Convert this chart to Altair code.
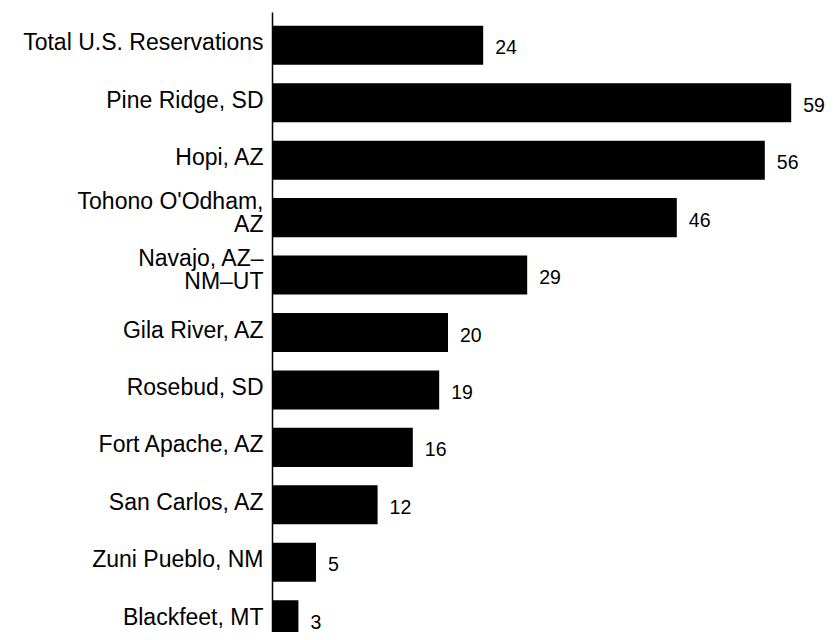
import altair as alt
import pandas as pd

categories = [
    "Total U.S. Reservations",
    "Pine Ridge, SD",
    "Hopi, AZ",
    "Tohono O'Odham,|AZ",
    "Navajo, AZ–|NM–UT",
    "Gila River, AZ",
    "Rosebud, SD",
    "Fort Apache, AZ",
    "San Carlos, AZ",
    "Zuni Pueblo, NM",
    "Blackfeet, MT",
]
values = [24, 59, 56, 46, 29, 20, 19, 16, 12, 5, 3]

df = pd.DataFrame({"cat": categories, "val": values})

y_enc = alt.Y(
    "cat:N",
    sort=categories,
    scale=alt.Scale(paddingInner=0.32, paddingOuter=0.24, range=[0, 641]),
    axis=alt.Axis(
        title=None,
        ticks=False,
        labelFont="Liberation Sans",
        labelFontSize=23,
        labelColor="black",
        labelPadding=9,
        labelLineHeight=23,
        labelLimit=300,
        labelExpr="split(datum.label, '|')",
        labelOffset={
            "condition": {"test": "indexof(datum.value, '|') >= 0", "value": -16},
            "value": -2,
        },
        domainColor="black",
        domainWidth=1.5,
        grid=False,
    ),
)

x_enc = alt.X(
    "val:Q",
    scale=alt.Scale(domain=[0, 60], nice=False),
    axis=None,
)

bars = alt.Chart(df).mark_bar(color="black").encode(x=x_enc, y=y_enc)

labels = alt.Chart(df).mark_text(
    align="left", baseline="middle", dx=12, dy=3,
    font="Liberation Sans", fontSize=19.5, color="black",
).encode(x=x_enc, y=y_enc, text="val:Q")

chart = (
    alt.layer(bars, labels)
    .properties(
        width=528,
        height=620,
        autosize=alt.AutoSizeParams(type="none"),
        padding={"left": 264, "top": 4, "right": 26, "bottom": 0},
        view=alt.ViewBackground(strokeOpacity=0, strokeWidth=0),
    )
    .configure_view(strokeOpacity=0, strokeWidth=0)
    .configure(background="white")
)

chart.save("out.html", embed_options={"renderer": "svg", "actions": False})
